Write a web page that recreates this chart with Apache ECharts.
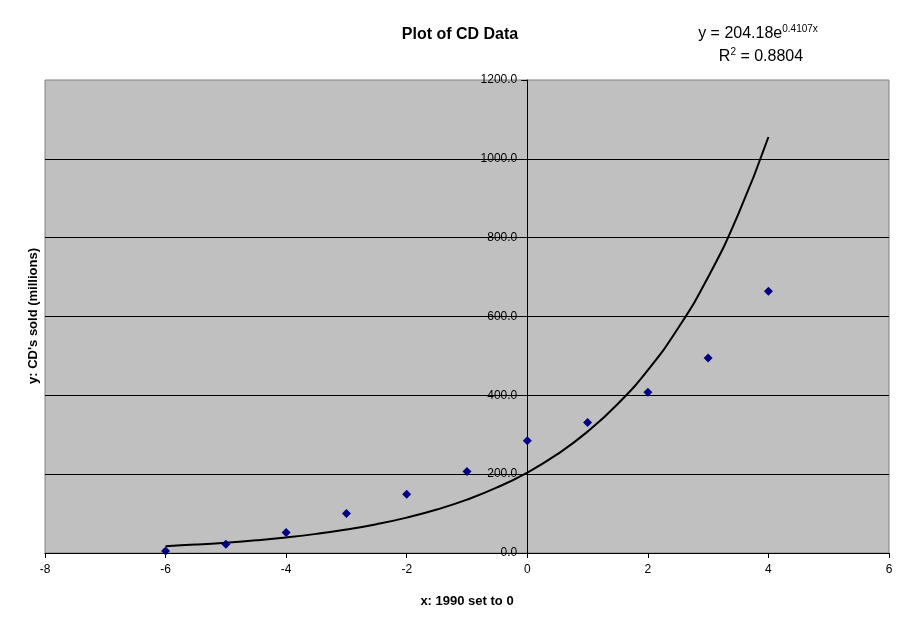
<!DOCTYPE html>
<html>
<head>
<meta charset="utf-8">
<script src="https://cdn.jsdelivr.net/npm/echarts@6/dist/echarts.min.js"></script>
<style>
html,body{margin:0;padding:0;background:#fff;}
#chart{width:911px;height:623px;}
</style>
</head>
<body>
<div id="chart"></div>
<script>
// Observed data (x: years with 1990 set to 0, y: CDs sold in millions)
var xValues = [-6, -5, -4, -3, -2, -1, 0, 1, 2, 3, 4];
var cdSold = [5, 22, 52, 100, 149, 207, 285, 331, 408, 495, 664];

// Exponential trendline as drawn on the chart (y = 204.18e^0.4107x)
var trendX = [-6, -5.5, -5, -4.5, -4, -3.5, -3, -2.5, -2, -1.5, -1, -0.5, 0, 0.5, 1, 1.5, 2, 2.5, 3, 3.5, 4];
var trendY = [17.4, 21.3, 26.2, 32.2, 39.5, 48.5, 59.6, 73.1, 89.8, 110.3, 135.4, 166.3, 204.2, 250.7, 307.9, 378.1, 464.2, 570.1, 700.0, 859.6, 1055.5];

// Axis settings
var xTicks = {min: -8, max: 6, interval: 2};
var yTicks = {min: 0, max: 1200, interval: 200};

var chartTitle = 'Plot of CD Data';
var xTitle = 'x: 1990 set to 0';
var yTitle = "y: CD's sold (millions)";
var eqMain = 'y = 204.18e';
var eqSup = '0.4107x';
var r2Main = 'R';
var r2Sup = '2';
var r2Rest = ' = 0.8804';

var scatterData = xValues.map(function (x, i) { return [x, cdSold[i]]; });
var trendData = trendX.map(function (x, i) { return [x, trendY[i]]; });

var font = 'Arial, "Liberation Sans", sans-serif';
var gridLeft = 45, gridRight = 22;
var plotWidth = 911 - gridLeft - gridRight;
// place the y axis where x = 0
var yAxisOffset = -plotWidth * (0 - xTicks.min) / (xTicks.max - xTicks.min);

var chart = echarts.init(document.getElementById('chart'), null, {renderer: 'canvas'});

chart.setOption({
  backgroundColor: '#ffffff',
  animation: false,
  title: {
    text: chartTitle,
    left: 455, top: 22,
    textAlign: 'center',
    textStyle: {fontFamily: font, fontSize: 16, fontWeight: 'bold', color: '#000'}
  },
  grid: {
    left: gridLeft, right: gridRight, top: 80, bottom: 70,
    show: true,
    backgroundColor: '#C0C0C0',
    borderColor: '#808080',
    borderWidth: 1
  },
  xAxis: {
    type: 'value',
    min: xTicks.min, max: xTicks.max, interval: xTicks.interval,
    name: xTitle,
    nameLocation: 'middle',
    nameGap: 42,
    nameTextStyle: {fontFamily: font, fontSize: 13, fontWeight: 'bold', color: '#000'},
    axisLine: {show: true, onZero: false, lineStyle: {color: '#000', width: 1}},
    axisTick: {show: true, inside: false, length: 5, lineStyle: {color: '#000'}},
    axisLabel: {fontFamily: font, fontSize: 12, color: '#000', margin: 11},
    splitLine: {show: false}
  },
  yAxis: {
    type: 'value',
    position: 'left',
    offset: yAxisOffset,
    min: yTicks.min, max: yTicks.max, interval: yTicks.interval,
    axisLine: {show: true, onZero: false, lineStyle: {color: '#000', width: 1}},
    axisTick: {show: true, inside: false, length: 6, lineStyle: {color: '#000'}},
    axisLabel: {
      fontFamily: font, fontSize: 12, color: '#000', margin: 10,
      formatter: function (v) { return v.toFixed(1); }
    },
    splitLine: {show: true, showMaxLine: false, showMinLine: false, lineStyle: {color: '#000', width: 1}}
  },
  graphic: [
    {
      type: 'text',
      x: 33, y: 316,
      rotation: Math.PI / 2,
      style: {
        text: yTitle,
        font: 'bold 13px ' + font,
        fill: '#000',
        align: 'center',
        verticalAlign: 'middle'
      }
    },
    {
      type: 'text',
      x: 758, y: 42,
      style: {
        text: '{m|' + eqMain + '}{s|' + eqSup + '}',
        align: 'center',
        verticalAlign: 'bottom',
        rich: {
          m: {fontFamily: font, fontSize: 16, fill: '#000', color: '#000', verticalAlign: 'bottom'},
          s: {fontFamily: font, fontSize: 10, fill: '#000', color: '#000', verticalAlign: 'top', padding: [0, 0, 8, 0]}
        }
      }
    },
    {
      type: 'text',
      x: 761, y: 65,
      style: {
        text: '{m|' + r2Main + '}{s|' + r2Sup + '}{m|' + r2Rest + '}',
        align: 'center',
        verticalAlign: 'bottom',
        rich: {
          m: {fontFamily: font, fontSize: 16, fill: '#000', color: '#000', verticalAlign: 'bottom'},
          s: {fontFamily: font, fontSize: 10, fill: '#000', color: '#000', verticalAlign: 'top', padding: [0, 0, 8, 0]}
        }
      }
    }
  ],
  series: [
    {
      type: 'line',
      data: trendData,
      smooth: true,
      showSymbol: false,
      lineStyle: {color: '#000', width: 2},
      z: 3
    },
    {
      type: 'scatter',
      data: scatterData,
      symbol: 'diamond',
      symbolSize: 9,
      itemStyle: {color: '#000080', opacity: 1},
      z: 4
    }
  ]
});
</script>
</body>
</html>
